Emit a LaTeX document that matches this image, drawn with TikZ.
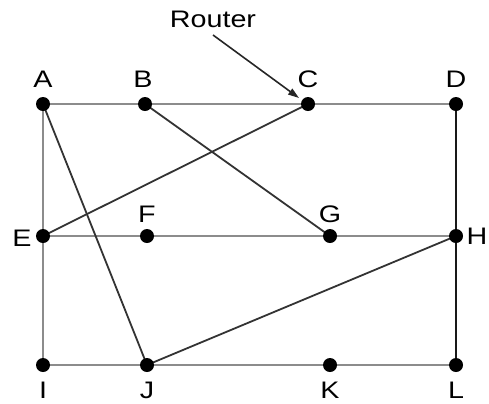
\documentclass[tikz,border=0pt]{standalone}
\usepackage{fontspec}
\setmainfont{Liberation Sans}
\usetikzlibrary{arrows.meta}
\begin{document}
\begin{tikzpicture}[x=1bp,y=-1bp,
  dot/.style={circle,fill=black,inner sep=0pt,minimum size=14bp},
  lbl/.style={font=\fontsize{24}{24}\selectfont,inner sep=0pt,xscale=1.2},
  grayline/.style={draw=black!45,line width=2.4bp},
  darkline/.style={draw=black!80,line width=1.8bp},
  blackline/.style={draw=black!90,line width=2bp}]
\useasboundingbox (0,0) rectangle (489,403);
\coordinate (A) at (43,104);
\coordinate (B) at (145,104);
\coordinate (C) at (308,104);
\coordinate (D) at (456,104);
\coordinate (E) at (43,236);
\coordinate (F) at (147,236);
\coordinate (G) at (330,236);
\coordinate (H) at (456,236);
\coordinate (I) at (43,365);
\coordinate (J) at (147,365);
\coordinate (K) at (330,365);
\coordinate (L) at (456,365);
\draw[grayline] (A) -- (B) -- (C) -- (D);
\draw[grayline] (E) -- (F) -- (G) -- (H);
\draw[grayline] (I) -- (J) -- (K) -- (L);
\draw[grayline] (A) -- (E) -- (I);
\draw[blackline] (D) -- (H) -- (L);
\draw[darkline] (A) -- (J);
\draw[darkline] (B) -- (G);
\draw[darkline] (C) -- (E);
\draw[darkline] (H) -- (J);
\node[dot] (nA) at (A) {};
\node[dot] (nB) at (B) {};
\node[dot] (nC) at (C) {};
\node[dot] (nD) at (D) {};
\node[dot] (nE) at (E) {};
\node[dot] (nF) at (F) {};
\node[dot] (nG) at (G) {};
\node[dot] (nH) at (H) {};
\node[dot] (nI) at (I) {};
\node[dot] (nJ) at (J) {};
\node[dot] (nK) at (K) {};
\node[dot] (nL) at (L) {};
\node[lbl] (lA) at (43,79) {A};
\node[lbl] (lB) at (143,79) {B};
\node[lbl] (lC) at (308,79) {C};
\node[lbl] (lD) at (456,79) {D};
\node[lbl] (lE) at (22,238) {E};
\node[lbl] (lF) at (147,214) {F};
\node[lbl] (lG) at (330,214) {G};
\node[lbl] (lH) at (477,236) {H};
\node[lbl] (lI) at (43,390) {I};
\node[lbl] (lJ) at (147,390) {J};
\node[lbl] (lK) at (330,390) {K};
\node[lbl] (lL) at (456,390) {L};
\node[lbl] (router) at (213,19) {Router};
\coordinate (rs) at (213,35);
\coordinate (re) at (299,98);
\draw[black!85,line width=1.6bp,-{Triangle[length=11bp,width=7bp]}] (rs) -- (re);
\end{tikzpicture}
\end{document}
